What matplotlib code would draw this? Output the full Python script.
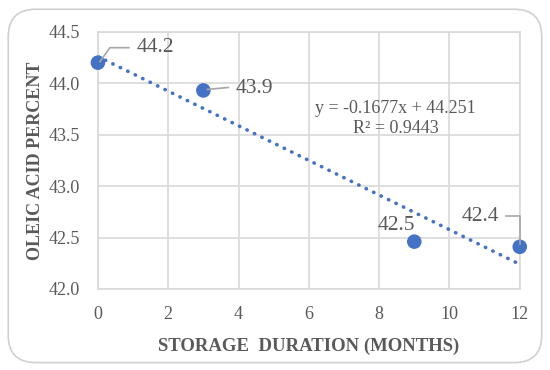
import numpy as np
import matplotlib
matplotlib.use("Agg")
import matplotlib.pyplot as plt
from matplotlib.patches import FancyBboxPatch
from matplotlib.lines import Line2D
from matplotlib.transforms import IdentityTransform

months = [0, 3, 9, 12]
oleic = [44.2, 43.93, 42.46, 42.41]
labels = ["44.2", "43.9", "42.5", "42.4"]
xticks = [0, 2, 4, 6, 8, 10, 12]
yticks = [42.0, 42.5, 43.0, 43.5, 44.0, 44.5]
eq_text = "y = -0.1677x + 44.251"
r2_text = "R\u00b2 = 0.9443"
xlabel = "STORAGE  DURATION (MONTHS)"
ylabel = "OLEIC ACID PERCENT"

plt.rcParams['font.family'] = ['Liberation Serif', 'DejaVu Serif']
gray = '#595959'
grid = '#d9d9d9'
blue = '#4472C4'
lc = '#a6a6a6'

fig = plt.figure(figsize=(5.5, 3.7), dpi=100)
fig.patch.set_facecolor('white')
border = FancyBboxPatch((0.015, 0.02), 0.97, 0.955, boxstyle="round,pad=0,rounding_size=0.05",
                        transform=fig.transFigure, facecolor='white', edgecolor='#d0d0d0',
                        linewidth=1.2, mutation_aspect=550/370, zorder=-10)
fig.patches.append(border)

ax = fig.add_axes([0.178, 0.219, 0.767, 0.695])
ax.set_facecolor('none')
ax.set_xlim(0, 12)
ax.set_ylim(42.0, 44.5)
ax.set_xticks(xticks)
ax.set_yticks(yticks)
ax.set_yticklabels([f"{v:.1f}" for v in yticks])
ax.tick_params(length=0, labelsize=13, labelcolor=gray)
ax.tick_params(axis='x', pad=12)
ax.tick_params(axis='y', pad=13)
ax.grid(True, color=grid, linewidth=1.2)
ax.set_axisbelow(True)
for s in ax.spines.values():
    s.set_color(grid)
    s.set_linewidth(1.2)

ax.set_xlabel(xlabel, fontsize=13.5, fontweight='bold', color=gray, labelpad=11)
ax.set_ylabel(ylabel, fontsize=13, fontweight='bold', color=gray, labelpad=3)

coef = np.polyfit(months, oleic, 1)
xs = np.array([0, 12])
ax.plot(xs, np.polyval(coef, xs), linestyle=(0, (0.1, 2.2)), linewidth=2.6,
        color=blue, dash_capstyle='round', zorder=2)

ax.scatter(months, oleic, s=110, color=blue, zorder=3, clip_on=False, edgecolors='none')

ax.text(8.47, 43.66, eq_text + "\n" + r2_text, fontsize=13, color=gray,
        ha='center', va='center', linespacing=1.2)

# leader lines and data labels (offsets in pixels from the point)
leaders = [
    [(2, 1), (12, 15), (31, 15)],
    [(4, 1), (25, 3)],
    None,
    [(0, 3), (0, 31), (-14, 31)],
]
text_off = [(39, 15, 'left'), (32, 2, 'left'), (-18, 16, 'center'), (-39, 30, 'center')]

fig.canvas.draw()
for i in range(len(months)):
    px, py = ax.transData.transform((months[i], oleic[i]))
    if leaders[i] is not None:
        xsd = [px + dx for dx, dy in leaders[i]]
        ysd = [py + dy for dx, dy in leaders[i]]
        fig.add_artist(Line2D(xsd, ysd, transform=IdentityTransform(), color=lc,
                              linewidth=1.2, zorder=4))
    dx, dy, ha = text_off[i]
    fig.text(px + dx, py + dy, labels[i], transform=IdentityTransform(), fontsize=15.5,
             color=gray, ha=ha, va='center')

fig.savefig("out.png", dpi=100)
